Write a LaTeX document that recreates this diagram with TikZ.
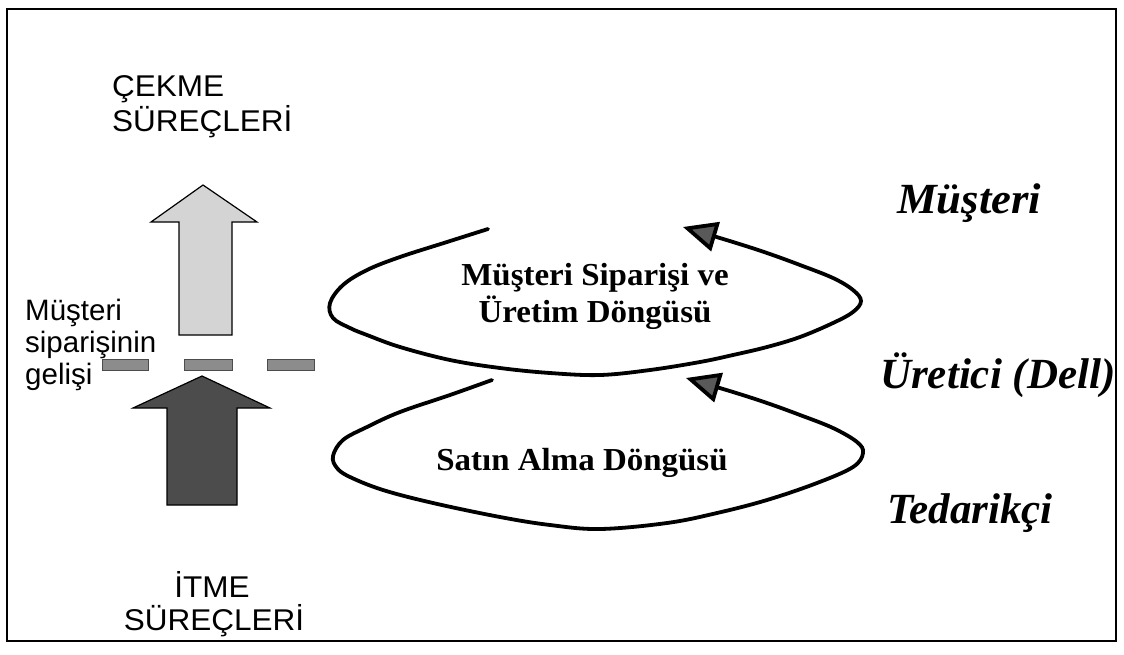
\documentclass[tikz,border=0pt]{standalone}
\usepackage{fontspec}
\usepackage{graphicx}
\setmainfont{Liberation Serif}
\setsansfont{Liberation Sans}
\usetikzlibrary{arrows.meta}
\newcommand\stretchx[2]{\scalebox{#1}[1]{#2}}

\begin{document}
\begin{tikzpicture}[x=1pt,y=-1pt,
  proctext/.style={font=\sffamily\fontsize{30}{34}\selectfont, inner sep=0pt},
  ordertext/.style={font=\sffamily\fontsize{29.5}{32}\selectfont, inner sep=0pt, anchor=base west},
  cycletext/.style={font=\bfseries\fontsize{32}{36}\selectfont, inner sep=0pt, anchor=base},
  actortext/.style={font=\bfseries\itshape\fontsize{43}{48}\selectfont, inner sep=0pt, anchor=base west},
  blockarrow/.style={draw=black, line width=1.2pt, line join=miter},
  orderdash/.style={draw=black!70, fill=black!45, line width=0.8pt},
  cycleline/.style={line width=3.8pt, line cap=round,
    -{Triangle[length=34pt,width=30pt,fill=black!65]}}
]
\useasboundingbox (0,0) rectangle (1124,654);
\fill[white] (0,0) rectangle (1124,654);

% outer frame
\draw[line width=1.6pt] (7,9) rectangle (1116,641);

% pull / push labels
\node[proctext, anchor=base west] (pull1) at (112,96) {\stretchx{1.05}{ÇEKME}};
\node[proctext, anchor=base west] (pull2) at (112,131) {\stretchx{1.05}{SÜREÇLERİ}};
\node[proctext, anchor=base] (push1) at (212,597) {\stretchx{1.05}{İTME}};
\node[proctext, anchor=base] (push2) at (214,630) {\stretchx{1.05}{SÜREÇLERİ}};

% pull arrow (light) and push arrow (dark)
\draw[blockarrow, fill=black!17]
  (203,185) -- (257,222) -- (232,222) -- (232,335) -- (179,335) -- (179,222) -- (151,222) -- cycle;
\draw[blockarrow, fill=black!70]
  (202,376) -- (270,408) -- (237,408) -- (237,505) -- (167,505) -- (167,408) -- (133,408) -- cycle;

% order decoupling point
\draw[orderdash] (102,359) rectangle (148,370);
\draw[orderdash] (184,359) rectangle (232,370);
\draw[orderdash] (267,359) rectangle (314,370);

\node[ordertext] (ord1) at (25,320) {Müşteri};
\node[ordertext] (ord2) at (25,352) {siparişinin};
\node[ordertext] (ord3) at (25,384) {gelişi};

% customer order and production cycle
\draw[cycleline] plot[smooth, tension=0.6] coordinates {
  (488,229) (447,242) (400,257) (367,270) (343,285) (330,303) (333,318)
  (350,328) (367,335) (400,347) (450,360) (500,368) (550,373) (600,375)
  (650,370) (700,362) (733,355) (767,347) (800,337) (833,323) (853,312)
  (861,301) (853,290) (833,278) (800,265) (767,253) (733,242) (683,227)};
\node[cycletext] (c1a) at (595,285) {\stretchx{1.03}{Müşteri Siparişi ve}};
\node[cycletext] (c1b) at (595,322) {\stretchx{1.03}{Üretim Döngüsü}};

% procurement cycle
\draw[cycleline] plot[smooth, tension=0.6] coordinates {
  (492,380) (450,395) (400,412) (367,427) (343,440) (333,456) (337,468)
  (350,477) (383,490) (433,503) (500,517) (550,525) (600,529)
  (667,523) (717,513) (767,500) (817,483) (853,467) (863,453)
  (857,442) (833,428) (800,415) (767,403) (733,392) (686,378)};
\node[cycletext] (c2) at (582,470) {\stretchx{1.03}{Satın Alma Döngüsü}};

% supply chain actors
\node[actortext] (cust) at (897,213) {\stretchx{1.04}{Müşteri}};
\node[actortext] (manu) at (880,388) {Üretici (Dell)};
\node[actortext] (supp) at (887,523) {Tedarikçi};
\end{tikzpicture}
\end{document}
